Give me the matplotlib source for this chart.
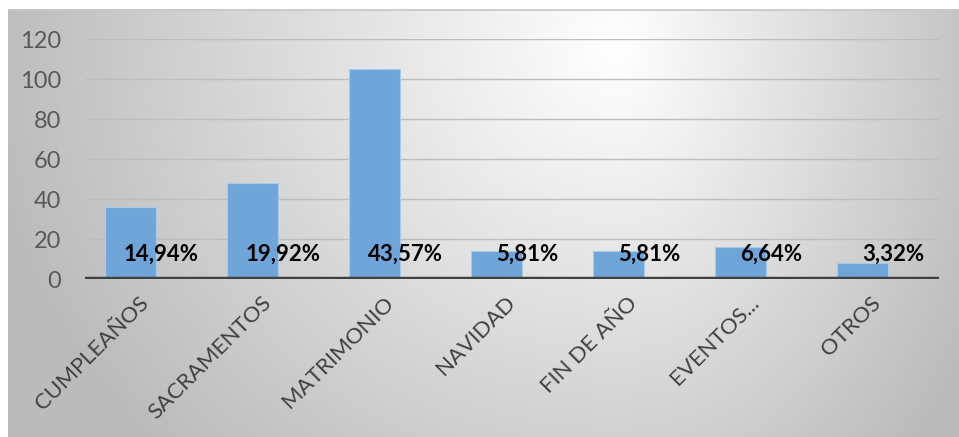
import numpy as np
import matplotlib
matplotlib.use("Agg")
import matplotlib.pyplot as plt

plt.rcParams['font.family'] = ['Lato', 'DejaVu Sans']

categories = ["CUMPLEAÑOS", "SACRAMENTOS", "MATRIMONIO", "NAVIDAD",
              "FIN DE AÑO", "EVENTOS...", "OTROS"]
counts = [36, 48, 105, 14, 14, 16, 8]
pct_labels = ["14,94%", "19,92%", "43,57%", "5,81%", "5,81%", "6,64%", "3,32%"]
yticks = [0, 20, 40, 60, 80, 100, 120]

W, H = 959, 437
fig = plt.figure(figsize=(W / 100, H / 100), dpi=100)
fig.patch.set_facecolor("white")

# chart-area background: soft path gradient, white near the upper middle
bg = fig.add_axes([8 / W, 0, (W - 8) / W, (H - 9) / H], zorder=0)
bw, bh = W - 8, H - 9
xx, yy = np.meshgrid(np.arange(bw), np.arange(bh))
cx, cy = 610, 40
dx = xx - cx
dy = yy - cy
sx = np.where(dx < 0, 600.0, 380.0)
t = np.sqrt((dx / sx) ** 2 + (dy / 540.0) ** 2)
val = 255 - 64 * np.clip(t, 0, 1.05)
img = np.dstack([val, val, val]) / 255.0
bg.imshow(img, aspect="auto", interpolation="bilinear")
bg.axhline(0, color="#c8c8c8", lw=1.2)
bg.set_axis_off()

# plot area
left, right = 85 / W, 939 / W
bottom, top = (H - 279) / H, (H - 39) / H
ax = fig.add_axes([left, bottom, right - left, top - bottom], zorder=1)
ax.patch.set_alpha(0)

x = np.arange(len(categories))
ax.bar(x - 0.13, counts, width=0.42, color="#6fa5d9", edgecolor="#a9cbea",
       linewidth=0.8, zorder=3)

for xi, lab in zip(x, pct_labels):
    ax.text(xi + 0.125, 12.5, lab, ha="center", va="center",
            fontsize=16, fontweight="bold", color="#000000", zorder=4)

ax.set_ylim(0, 120)
ax.set_xlim(-0.5, len(categories) - 0.5)
ax.set_yticks(yticks)
ax.yaxis.grid(True, color="#bdbdbd", linewidth=1.0, zorder=0)
ax.set_axisbelow(True)
ax.axhline(0, color="#404040", linewidth=3.2, zorder=5)
for s in ax.spines.values():
    s.set_visible(False)

ax.tick_params(axis="y", length=0, pad=17, labelsize=17, labelcolor="#595959")
ax.tick_params(axis="x", length=0, pad=15, labelsize=16, labelcolor="#404040")
ax.set_xticks(x)
ax.set_xticklabels(categories, rotation=45, ha="right", va="center",
                   rotation_mode="anchor")

fig.savefig("out.png", dpi=100)
